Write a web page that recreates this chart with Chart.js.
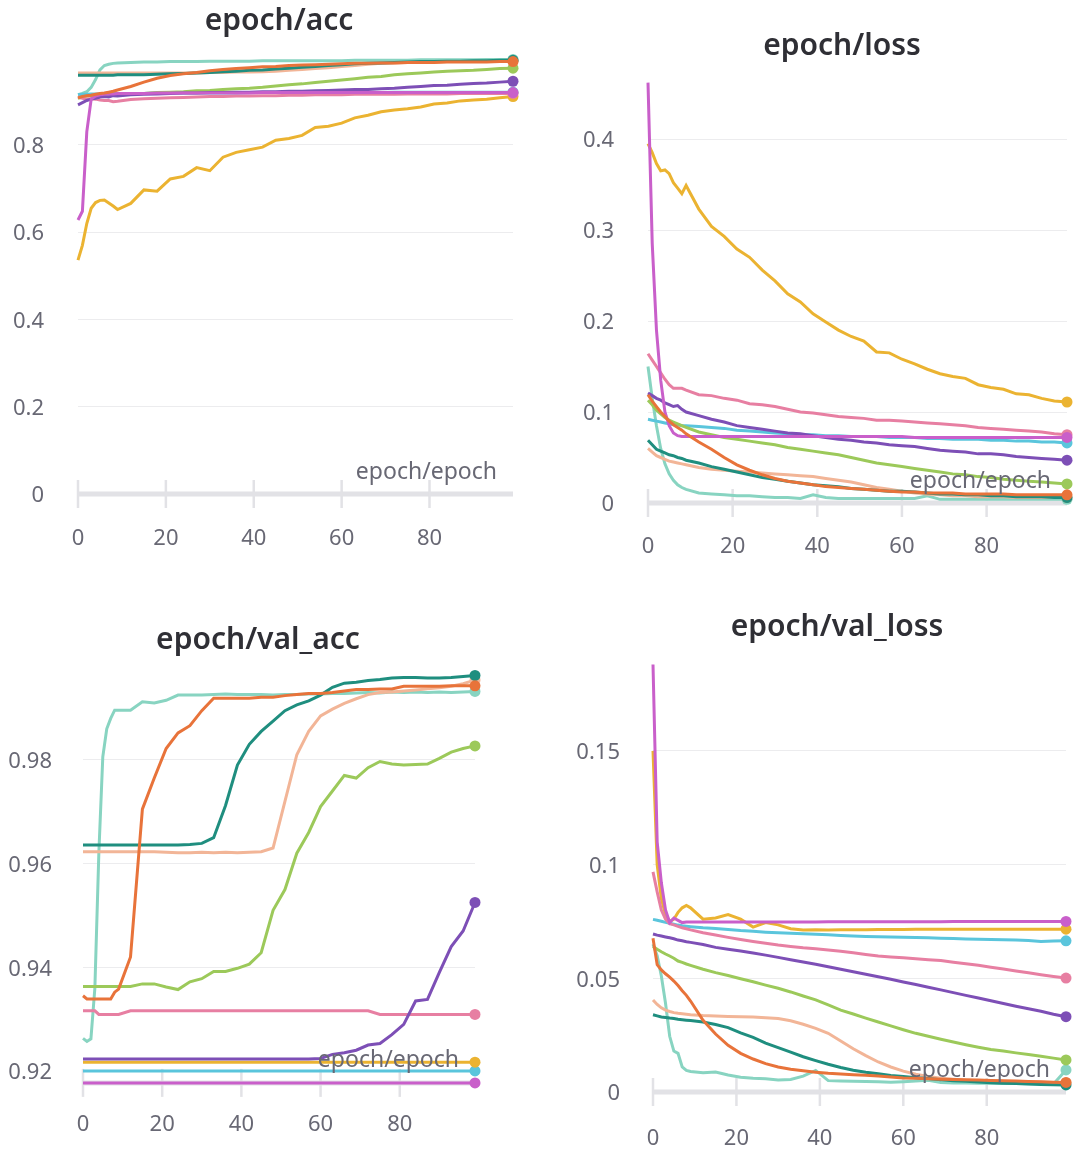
<!DOCTYPE html>
<html>
<head>
<meta charset="utf-8">
<script src="https://cdn.jsdelivr.net/npm/chart.js@4.4.1/dist/chart.umd.min.js"></script>
<style>
  html, body { margin: 0; padding: 0; background: #fff; }
  body { width: 1074px; height: 1152px; position: relative; overflow: hidden; }
  .panel { position: absolute; }
</style>
</head>
<body>
<div class="panel" style="left:0;top:0;width:560px;height:575px"><canvas id="plot-acc"></canvas></div>
<div class="panel" style="left:560px;top:0;width:514px;height:575px"><canvas id="plot-loss"></canvas></div>
<div class="panel" style="left:0;top:590px;width:560px;height:562px"><canvas id="plot-val-acc"></canvas></div>
<div class="panel" style="left:560px;top:590px;width:514px;height:562px"><canvas id="plot-val-loss"></canvas></div>
<script>
//------------------------------------------------------
// data (read off the W&B panels)
//------------------------------------------------------
const epochs = [0,1,2,3,4,5,6,7,8,9, 12,15,18,21,24,27,30,33,36,39,
  42,45,48,51,54,57,60,63,66,69, 72,75,78,81,84,87,90,93,96,99];
const xTicks = [0, 20, 40, 60, 80];
const xLabel = "epoch/epoch";

// epoch/acc
const accTicks = [0, 0.2, 0.4, 0.6, 0.8];
const accMint = [0.915,0.918,0.922,0.932,0.950,0.972,0.982,0.985,0.987,0.988,
  0.989,0.990,0.990,0.991,0.991,0.991,0.992,0.992,0.992,0.992,
  0.993,0.993,0.993,0.993,0.993,0.993,0.993,0.994,0.994,0.994,
  0.994,0.994,0.995,0.995,0.995,0.995,0.995,0.996,0.996,0.996];
const accTeal = [0.960,0.960,0.960,0.960,0.960,0.960,0.960,0.960,0.960,0.961,
  0.961,0.961,0.962,0.963,0.964,0.965,0.966,0.968,0.969,0.971,
  0.972,0.974,0.976,0.978,0.980,0.982,0.984,0.986,0.987,0.988,
  0.989,0.990,0.991,0.991,0.992,0.992,0.993,0.993,0.994,0.994];
const accOrange = [0.908,0.911,0.913,0.914,0.916,0.918,0.919,0.921,0.923,0.926,
  0.934,0.944,0.953,0.959,0.963,0.966,0.970,0.973,0.975,0.977,
  0.979,0.980,0.982,0.983,0.984,0.985,0.986,0.987,0.987,0.988,
  0.988,0.989,0.989,0.989,0.990,0.990,0.990,0.990,0.991,0.991];
const accPeach = [0.965,0.965,0.965,0.965,0.965,0.965,0.965,0.965,0.965,0.965,
  0.965,0.965,0.965,0.965,0.965,0.965,0.966,0.966,0.967,0.967,
  0.968,0.969,0.971,0.973,0.975,0.977,0.980,0.982,0.985,0.987,
  0.988,0.989,0.990,0.990,0.991,0.991,0.991,0.992,0.992,0.992];
const accGreen = [0.907,0.910,0.912,0.913,0.914,0.914,0.915,0.915,0.916,0.916,
  0.917,0.918,0.920,0.921,0.922,0.924,0.925,0.927,0.929,0.930,
  0.932,0.935,0.938,0.940,0.943,0.946,0.949,0.952,0.955,0.957,
  0.961,0.963,0.965,0.967,0.969,0.970,0.971,0.973,0.975,0.976];
const accPurple = [0.892,0.897,0.902,0.905,0.907,0.910,0.911,0.910,0.913,0.912,
  0.915,0.916,0.917,0.918,0.919,0.919,0.920,0.920,0.921,0.921,
  0.922,0.922,0.923,0.923,0.924,0.925,0.926,0.927,0.927,0.929,
  0.930,0.932,0.934,0.936,0.937,0.939,0.941,0.942,0.944,0.946];
const accPink = [0.910,0.907,0.905,0.906,0.905,0.903,0.902,0.902,0.899,0.900,
  0.904,0.906,0.907,0.908,0.909,0.910,0.911,0.911,0.912,0.912,
  0.913,0.913,0.914,0.914,0.915,0.915,0.915,0.916,0.916,0.916,
  0.916,0.917,0.917,0.917,0.917,0.918,0.918,0.918,0.918,0.918];
const accCyan = [0.915,0.916,0.916,0.917,0.917,0.917,0.918,0.918,0.918,0.918,
  0.918,0.918,0.919,0.919,0.919,0.919,0.919,0.919,0.919,0.920,
  0.920,0.920,0.920,0.920,0.920,0.920,0.920,0.920,0.920,0.920,
  0.921,0.921,0.921,0.921,0.921,0.921,0.921,0.921,0.921,0.921];
const accMagenta = [0.628,0.648,0.830,0.905,0.912,0.915,0.916,0.917,0.917,0.918,
  0.918,0.918,0.919,0.919,0.919,0.919,0.919,0.919,0.919,0.919,
  0.920,0.920,0.920,0.920,0.920,0.920,0.920,0.920,0.920,0.920,
  0.920,0.920,0.920,0.920,0.920,0.920,0.920,0.920,0.920,0.920];
const accYellow = [0.536,0.570,0.620,0.655,0.668,0.673,0.674,0.667,0.660,0.652,
  0.666,0.697,0.694,0.722,0.728,0.748,0.741,0.772,0.783,0.789,
  0.795,0.811,0.815,0.822,0.840,0.843,0.850,0.862,0.868,0.876,
  0.880,0.883,0.887,0.894,0.896,0.901,0.903,0.905,0.908,0.911];

// epoch/loss
const lossTicks = [0, 0.1, 0.2, 0.3, 0.4];
const lossMint = [0.150,0.115,0.085,0.060,0.043,0.032,0.025,0.020,0.017,0.015,
  0.011,0.010,0.009,0.008,0.008,0.007,0.006,0.006,0.005,0.009,
  0.006,0.005,0.005,0.005,0.005,0.005,0.005,0.005,0.008,0.004,
  0.004,0.004,0.004,0.004,0.004,0.004,0.004,0.004,0.004,0.004];
const lossTeal = [0.069,0.064,0.059,0.057,0.055,0.053,0.052,0.050,0.049,0.047,
  0.044,0.040,0.037,0.034,0.031,0.028,0.026,0.024,0.022,0.020,
  0.019,0.018,0.016,0.015,0.014,0.013,0.013,0.012,0.011,0.010,
  0.010,0.009,0.009,0.008,0.008,0.007,0.007,0.007,0.006,0.006];
const lossOrange = [0.119,0.112,0.106,0.100,0.095,0.090,0.086,0.083,0.080,0.076,
  0.067,0.059,0.050,0.042,0.036,0.031,0.027,0.024,0.022,0.020,
  0.018,0.017,0.016,0.015,0.014,0.013,0.012,0.012,0.011,0.011,
  0.011,0.010,0.010,0.010,0.010,0.009,0.009,0.009,0.009,0.009];
const lossPeach = [0.060,0.056,0.052,0.050,0.048,0.046,0.045,0.044,0.043,0.042,
  0.039,0.037,0.036,0.035,0.034,0.033,0.032,0.031,0.030,0.029,
  0.027,0.025,0.023,0.020,0.017,0.015,0.013,0.011,0.010,0.009,
  0.008,0.008,0.007,0.007,0.007,0.006,0.006,0.006,0.006,0.006];
const lossGreen = [0.113,0.108,0.102,0.098,0.094,0.091,0.089,0.087,0.085,0.083,
  0.078,0.075,0.072,0.070,0.068,0.066,0.064,0.061,0.059,0.057,
  0.055,0.053,0.050,0.047,0.044,0.042,0.040,0.038,0.036,0.034,
  0.032,0.031,0.029,0.028,0.026,0.025,0.024,0.023,0.022,0.021];
const lossPurple = [0.121,0.118,0.115,0.113,0.110,0.108,0.106,0.107,0.103,0.100,
  0.096,0.092,0.089,0.085,0.083,0.081,0.079,0.077,0.076,0.074,
  0.072,0.070,0.069,0.067,0.066,0.064,0.063,0.062,0.060,0.058,
  0.057,0.056,0.054,0.054,0.053,0.051,0.050,0.049,0.048,0.047];
const lossPink = [0.164,0.157,0.150,0.143,0.136,0.130,0.126,0.126,0.126,0.124,
  0.119,0.118,0.115,0.113,0.109,0.108,0.106,0.103,0.100,0.099,
  0.097,0.095,0.094,0.093,0.091,0.091,0.090,0.089,0.088,0.087,
  0.086,0.085,0.083,0.082,0.081,0.080,0.079,0.078,0.076,0.075];
const lossCyan = [0.092,0.091,0.090,0.089,0.088,0.087,0.086,0.086,0.085,0.085,
  0.084,0.083,0.082,0.080,0.079,0.078,0.077,0.076,0.075,0.075,
  0.074,0.074,0.073,0.073,0.073,0.072,0.072,0.072,0.071,0.071,
  0.070,0.070,0.070,0.069,0.069,0.068,0.068,0.067,0.067,0.066];
const lossMagenta = [0.462,0.285,0.190,0.135,0.100,0.085,0.077,0.074,0.073,0.073,
  0.073,0.073,0.073,0.073,0.073,0.073,0.073,0.073,0.073,0.073,
  0.073,0.073,0.073,0.073,0.073,0.073,0.073,0.072,0.072,0.072,
  0.072,0.072,0.072,0.072,0.072,0.072,0.072,0.072,0.072,0.072];
const lossYellow = [0.395,0.385,0.373,0.365,0.366,0.362,0.352,0.346,0.340,0.349,
  0.323,0.304,0.293,0.279,0.270,0.256,0.244,0.230,0.221,0.208,
  0.199,0.190,0.183,0.178,0.166,0.165,0.158,0.153,0.147,0.142,
  0.139,0.137,0.130,0.127,0.125,0.120,0.119,0.115,0.112,0.111];

// epoch/val_acc
const valAccTicks = [0.92, 0.94, 0.96, 0.98];
const valAccMint = [0.9263,0.9257,0.9262,0.9360,0.9620,0.9806,0.9860,0.9880,0.9896,0.9896,
  0.9896,0.9912,0.9910,0.9915,0.9925,0.9925,0.9925,0.9926,0.9927,0.9926,
  0.9926,0.9926,0.9925,0.9926,0.9926,0.9927,0.9927,0.9928,0.9928,0.9929,
  0.9930,0.9929,0.9931,0.9930,0.9931,0.9930,0.9931,0.9930,0.9931,0.9932];
const valAccTeal = [0.9636,0.9636,0.9636,0.9636,0.9636,0.9636,0.9636,0.9636,0.9636,0.9636,
  0.9636,0.9636,0.9636,0.9636,0.9636,0.9637,0.9639,0.9650,0.9712,0.9790,
  0.9830,0.9855,0.9875,0.9895,0.9906,0.9914,0.9925,0.9940,0.9948,0.9950,
  0.9953,0.9955,0.9958,0.9959,0.9959,0.9958,0.9958,0.9959,0.9961,0.9963];
const valAccOrange = [0.9345,0.9339,0.9339,0.9339,0.9339,0.9339,0.9339,0.9339,0.9352,0.9358,
  0.9420,0.9705,0.9765,0.9822,0.9852,0.9866,0.9895,0.9919,0.9919,0.9919,
  0.9919,0.9921,0.9921,0.9924,0.9926,0.9928,0.9928,0.9930,0.9933,0.9936,
  0.9936,0.9937,0.9937,0.9942,0.9942,0.9942,0.9942,0.9943,0.9943,0.9943];
const valAccPeach = [0.9623,0.9623,0.9623,0.9623,0.9623,0.9623,0.9623,0.9623,0.9623,0.9623,
  0.9623,0.9623,0.9623,0.9622,0.9621,0.9621,0.9622,0.9621,0.9622,0.9621,
  0.9622,0.9623,0.9630,0.9720,0.9810,0.9855,0.9885,0.9898,0.9909,0.9918,
  0.9926,0.9930,0.9931,0.9933,0.9935,0.9937,0.9939,0.9942,0.9947,0.9954];
const valAccGreen = [0.9363,0.9363,0.9363,0.9363,0.9363,0.9363,0.9363,0.9363,0.9363,0.9363,
  0.9363,0.9368,0.9368,0.9362,0.9357,0.9372,0.9378,0.9392,0.9392,0.9398,
  0.9406,0.9428,0.9510,0.9550,0.9620,0.9660,0.9710,0.9740,0.9770,0.9765,
  0.9785,0.9797,0.9792,0.9790,0.9791,0.9792,0.9803,0.9815,0.9822,0.9827];
const valAccPurple = [0.9223,0.9223,0.9223,0.9223,0.9223,0.9223,0.9223,0.9223,0.9223,0.9223,
  0.9223,0.9223,0.9223,0.9223,0.9223,0.9223,0.9223,0.9223,0.9223,0.9223,
  0.9223,0.9223,0.9223,0.9223,0.9223,0.9223,0.9224,0.9232,0.9235,0.9240,
  0.9250,0.9253,0.9270,0.9290,0.9335,0.9338,0.9390,0.9440,0.9470,0.9525];
const valAccPink = [0.9316,0.9316,0.9316,0.9316,0.9309,0.9309,0.9309,0.9309,0.9309,0.9309,
  0.9316,0.9316,0.9316,0.9316,0.9316,0.9316,0.9316,0.9316,0.9316,0.9316,
  0.9316,0.9316,0.9316,0.9316,0.9316,0.9316,0.9316,0.9316,0.9316,0.9316,
  0.9316,0.9309,0.9309,0.9309,0.9309,0.9309,0.9309,0.9309,0.9309,0.9309];
const valAccYellow = [0.9217,0.9217,0.9217,0.9217,0.9217,0.9217,0.9217,0.9217,0.9217,0.9217,
  0.9217,0.9217,0.9217,0.9217,0.9217,0.9217,0.9217,0.9217,0.9217,0.9217,
  0.9217,0.9217,0.9217,0.9217,0.9217,0.9217,0.9217,0.9217,0.9217,0.9217,
  0.9217,0.9217,0.9217,0.9217,0.9217,0.9217,0.9217,0.9217,0.9217,0.9217];
const valAccCyan = [0.9200,0.9200,0.9200,0.9200,0.9200,0.9200,0.9200,0.9200,0.9200,0.9200,
  0.9200,0.9200,0.9200,0.9200,0.9200,0.9200,0.9200,0.9200,0.9200,0.9200,
  0.9200,0.9200,0.9200,0.9200,0.9200,0.9200,0.9200,0.9200,0.9200,0.9200,
  0.9200,0.9200,0.9200,0.9200,0.9200,0.9200,0.9200,0.9200,0.9200,0.9200];
const valAccMagenta = [0.9177,0.9177,0.9177,0.9177,0.9177,0.9177,0.9177,0.9177,0.9177,0.9177,
  0.9177,0.9177,0.9177,0.9177,0.9177,0.9177,0.9177,0.9177,0.9177,0.9177,
  0.9177,0.9177,0.9177,0.9177,0.9177,0.9177,0.9177,0.9177,0.9177,0.9177,
  0.9177,0.9177,0.9177,0.9177,0.9177,0.9177,0.9177,0.9177,0.9177,0.9177];

// epoch/val_loss
const valLossTicks = [0, 0.05, 0.1, 0.15];
const valLossMint = [0.0650,0.0600,0.0510,0.0390,0.0245,0.0180,0.0170,0.0110,0.0095,0.0090,
  0.0085,0.0088,0.0075,0.0065,0.0060,0.0058,0.0053,0.0055,0.0070,0.0095,
  0.0050,0.0048,0.0047,0.0046,0.0045,0.0043,0.0045,0.0048,0.0052,0.0042,
  0.0040,0.0040,0.0039,0.0038,0.0037,0.0037,0.0036,0.0036,0.0035,0.0097];
const valLossTeal = [0.0340,0.0335,0.0330,0.0328,0.0325,0.0323,0.0320,0.0318,0.0316,0.0314,
  0.0308,0.0297,0.0283,0.0260,0.0240,0.0215,0.0195,0.0175,0.0155,0.0138,
  0.0122,0.0108,0.0096,0.0087,0.0080,0.0073,0.0068,0.0063,0.0059,0.0054,
  0.0050,0.0047,0.0044,0.0041,0.0039,0.0037,0.0035,0.0033,0.0032,0.0031];
const valLossOrange = [0.0676,0.0560,0.0537,0.0520,0.0505,0.0488,0.0468,0.0445,0.0425,0.0400,
  0.0315,0.0255,0.0205,0.0170,0.0145,0.0125,0.0110,0.0100,0.0093,0.0087,
  0.0082,0.0079,0.0076,0.0074,0.0070,0.0066,0.0062,0.0060,0.0058,0.0056,
  0.0055,0.0054,0.0053,0.0051,0.0049,0.0048,0.0046,0.0045,0.0043,0.0042];
const valLossPeach = [0.0405,0.0385,0.0370,0.0360,0.0354,0.0349,0.0346,0.0344,0.0342,0.0340,
  0.0336,0.0334,0.0332,0.0331,0.0330,0.0327,0.0323,0.0313,0.0298,0.0280,
  0.0258,0.0224,0.0190,0.0160,0.0132,0.0110,0.0092,0.0078,0.0068,0.0061,
  0.0056,0.0052,0.0050,0.0048,0.0046,0.0045,0.0044,0.0043,0.0042,0.0041];
const valLossGreen = [0.0640,0.0628,0.0617,0.0607,0.0598,0.0588,0.0576,0.0570,0.0563,0.0557,
  0.0540,0.0525,0.0512,0.0498,0.0485,0.0470,0.0456,0.0440,0.0422,0.0405,
  0.0383,0.0360,0.0343,0.0325,0.0308,0.0291,0.0274,0.0258,0.0245,0.0232,
  0.0220,0.0208,0.0197,0.0187,0.0180,0.0172,0.0165,0.0157,0.0149,0.0141];
const valLossPurple = [0.0695,0.0690,0.0686,0.0682,0.0678,0.0674,0.0668,0.0665,0.0661,0.0658,
  0.0649,0.0636,0.0628,0.0620,0.0611,0.0602,0.0592,0.0582,0.0572,0.0562,
  0.0551,0.0540,0.0529,0.0518,0.0507,0.0496,0.0484,0.0473,0.0461,0.0449,
  0.0437,0.0425,0.0413,0.0401,0.0389,0.0377,0.0366,0.0355,0.0342,0.0331];
const valLossPink = [0.0968,0.0880,0.0800,0.0760,0.0740,0.0735,0.0728,0.0722,0.0718,0.0713,
  0.0700,0.0690,0.0680,0.0671,0.0662,0.0654,0.0646,0.0640,0.0634,0.0630,
  0.0624,0.0619,0.0612,0.0605,0.0598,0.0594,0.0590,0.0586,0.0582,0.0578,
  0.0571,0.0564,0.0557,0.0549,0.0541,0.0532,0.0524,0.0516,0.0508,0.0501];
const valLossCyan = [0.0759,0.0755,0.0751,0.0746,0.0742,0.0738,0.0734,0.0731,0.0729,0.0727,
  0.0722,0.0719,0.0715,0.0710,0.0707,0.0703,0.0700,0.0698,0.0696,0.0694,
  0.0691,0.0688,0.0686,0.0684,0.0683,0.0682,0.0681,0.0679,0.0678,0.0676,
  0.0675,0.0673,0.0672,0.0671,0.0670,0.0668,0.0666,0.0662,0.0664,0.0665];
const valLossMagenta = [0.1880,0.1100,0.0920,0.0800,0.0745,0.0765,0.0755,0.0745,0.0748,0.0748,
  0.0748,0.0748,0.0748,0.0748,0.0748,0.0748,0.0748,0.0748,0.0748,0.0748,
  0.0749,0.0749,0.0749,0.0749,0.0749,0.0749,0.0749,0.0749,0.0749,0.0749,
  0.0750,0.0750,0.0750,0.0750,0.0750,0.0750,0.0750,0.0750,0.0750,0.0750];
const valLossYellow = [0.1500,0.1000,0.0850,0.0780,0.0750,0.0760,0.0790,0.0810,0.0820,0.0810,
  0.0760,0.0765,0.0780,0.0760,0.0725,0.0745,0.0735,0.0718,0.0712,0.0714,
  0.0712,0.0713,0.0714,0.0714,0.0715,0.0715,0.0715,0.0716,0.0716,0.0716,
  0.0716,0.0716,0.0716,0.0716,0.0716,0.0716,0.0716,0.0716,0.0716,0.0716];

//------------------------------------------------------
// run colours (first one is drawn on top)
//------------------------------------------------------
const COLORS = {
  orange: "#e8733a", magenta: "#c95fca", purple: "#7d4fb6", pink: "#e77fa2",
  green: "#9cc95a", yellow: "#ebb331", cyan: "#5ac5dc", teal: "#1f8e7f",
  peach: "#f2b597", mint: "#88d4c1",
};
const FONT = '"Noto Sans", "DejaVu Sans", sans-serif';
const TEXT_GRAY = "#686874";
const AXIS_GRAY = "#e2e2e6";

// panel title, thick bottom axis with tick marks, "epoch/epoch" tag
const panelDecor = {
  id: "panelDecor",
  beforeDatasetsDraw(chart) {
    const { ctx, chartArea: a, scales: { x } } = chart;
    ctx.save();
    ctx.strokeStyle = AXIS_GRAY;
    ctx.lineWidth = 5;
    ctx.beginPath();
    ctx.moveTo(a.left, a.bottom);
    ctx.lineTo(a.right, a.bottom);
    ctx.stroke();
    ctx.lineWidth = 2.5;
    xTicks.forEach((t) => {
      const px = x.getPixelForValue(t);
      ctx.beginPath();
      ctx.moveTo(px, a.bottom - 14);
      ctx.lineTo(px, a.bottom + 14);
      ctx.stroke();
    });
    ctx.restore();
  },
  afterDatasetsDraw(chart, args, opts) {
    const { ctx, chartArea: a } = chart;
    ctx.save();
    ctx.font = "23px " + FONT;
    ctx.fillStyle = TEXT_GRAY;
    ctx.textAlign = "right";
    ctx.textBaseline = "middle";
    ctx.fillText(xLabel, a.right - 16, a.bottom - 22);

    ctx.font = "600 30px " + FONT;
    ctx.fillStyle = "#2f2f35";
    ctx.textAlign = "center";
    ctx.fillText(opts.title, opts.titleX, opts.titleY);
    ctx.restore();
  },
};

function panel(id, cfg) {
  const last = epochs.length - 1;
  const datasets = cfg.series.map(([ys, key]) => ({
    data: ys.map((y, i) => ({ x: epochs[i], y })),
    borderColor: COLORS[key],
    backgroundColor: COLORS[key],
    borderWidth: 3,
    tension: 0,
    clip: false,
    pointRadius: (c) => (c.dataIndex === last ? 5.5 : 0),
    pointBorderWidth: 0,
  }));

  return new Chart(document.getElementById(id), {
    type: "line",
    data: { datasets },
    options: {
      responsive: true,
      maintainAspectRatio: false,
      animation: false,
      events: [],
      layout: { padding: { left: 0, right: cfg.padRight, top: cfg.padTop, bottom: 0 } },
      plugins: {
        legend: { display: false },
        tooltip: { enabled: false },
        title: { display: false },
        panelDecor: { title: cfg.title, titleX: cfg.titleX, titleY: cfg.titleY },
      },
      scales: {
        x: {
          type: "linear",
          min: 0,
          max: 99,
          afterBuildTicks: (s) => { s.ticks = xTicks.map((v) => ({ value: v })); },
          afterFit: (s) => { s.height = cfg.xHeight; },
          grid: { display: false },
          border: { display: false },
          ticks: {
            padding: cfg.xPad,
            color: TEXT_GRAY,
            font: { family: FONT, size: 22 },
            maxRotation: 0,
            callback: (v) => String(v),
          },
        },
        y: {
          min: cfg.yMin,
          max: cfg.yMax,
          afterBuildTicks: (s) => { s.ticks = cfg.yTicks.map((v) => ({ value: v })); },
          afterFit: (s) => { s.width = cfg.yWidth; },
          grid: { color: "#ececee", lineWidth: 1, drawTicks: false },
          border: { display: false },
          ticks: {
            padding: cfg.yPad,
            labelOffset: 2,
            color: TEXT_GRAY,
            font: { family: FONT, size: 22 },
            callback: (v) => String(v),
          },
        },
      },
    },
    plugins: [panelDecor],
  });
}

//------------------------------------------------------
// the four panels (positions are relative to each canvas)
//------------------------------------------------------
panel("plot-acc", {
  title: "epoch/acc", titleX: 279, titleY: 21,
  padTop: 59, padRight: 47, yWidth: 78, xHeight: 81, xPad: 24, yPad: 34,
  yMin: 0, yMax: 0.997, yTicks: accTicks,
  series: [[accOrange, "orange"], [accMagenta, "magenta"], [accPurple, "purple"], [accPink, "pink"],
    [accGreen, "green"], [accYellow, "yellow"], [accCyan, "cyan"], [accTeal, "teal"],
    [accPeach, "peach"], [accMint, "mint"]],
});

panel("plot-loss", {
  title: "epoch/loss", titleX: 282, titleY: 46,
  padTop: 82.6, padRight: 7, yWidth: 88, xHeight: 72, xPad: 23, yPad: 34,
  yMin: 0, yMax: 0.462, yTicks: lossTicks,
  series: [[lossOrange, "orange"], [lossMagenta, "magenta"], [lossPurple, "purple"], [lossPink, "pink"],
    [lossGreen, "green"], [lossYellow, "yellow"], [lossCyan, "cyan"], [lossTeal, "teal"],
    [lossPeach, "peach"], [lossMint, "mint"]],
});

panel("plot-val-acc", {
  title: "epoch/val_acc", titleX: 258, titleY: 50,
  padTop: 85.4, padRight: 85, yWidth: 83, xHeight: 69.1, xPad: 21, yPad: 31,
  yMin: 0.9177, yMax: 0.9963, yTicks: valAccTicks,
  series: [[valAccOrange, "orange"], [valAccMagenta, "magenta"], [valAccPurple, "purple"], [valAccPink, "pink"],
    [valAccGreen, "green"], [valAccYellow, "yellow"], [valAccCyan, "cyan"], [valAccTeal, "teal"],
    [valAccPeach, "peach"], [valAccMint, "mint"]],
});

panel("plot-val-loss", {
  title: "epoch/val_loss", titleX: 277, titleY: 37,
  padTop: 74.5, padRight: 8, yWidth: 93, xHeight: 60, xPad: 26, yPad: 33,
  yMin: 0, yMax: 0.188, yTicks: valLossTicks,
  series: [[valLossOrange, "orange"], [valLossMagenta, "magenta"], [valLossPurple, "purple"], [valLossPink, "pink"],
    [valLossGreen, "green"], [valLossYellow, "yellow"], [valLossCyan, "cyan"], [valLossTeal, "teal"],
    [valLossPeach, "peach"], [valLossMint, "mint"]],
});
</script>
</body>
</html>
